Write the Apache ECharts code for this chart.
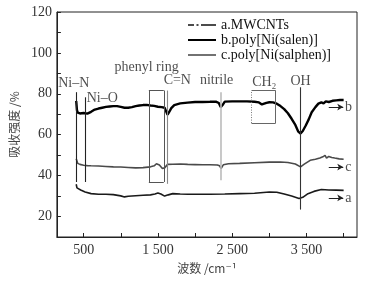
<!DOCTYPE html>
<html><head><meta charset="utf-8">
<script src="https://cdn.jsdelivr.net/npm/echarts@6/dist/echarts.min.js"></script>
<style>html,body{margin:0;padding:0;background:#fff}#c{width:372px;height:285px}</style>
</head><body><div id="c"></div>
<script>
// Series names
const seriesNames = ['a.MWCNTs', 'b.poly[Ni(salen)]', 'c.poly[Ni(salphen)]'];
// [wavenumber, intensity]
const curveA = [[400,35.8],[410,34.0],[430,33.4],[460,33.0],[520,32.0],[600,31.2],[700,30.9],[800,30.9],[900,30.7],[1000,30.1],[1050,29.6],[1100,29.9],[1200,30.2],[1300,30.4],[1400,30.6],[1460,31.0],[1500,31.5],[1540,31.0],[1590,30.0],[1640,30.6],[1700,31.2],[1800,31.0],[1900,30.9],[2000,30.9],[2200,30.9],[2400,31.0],[2600,31.2],[2800,31.4],[3000,32.0],[3100,31.9],[3200,31.0],[3300,30.0],[3400,28.8],[3450,29.4],[3520,31.2],[3600,32.3],[3700,33.2],[3800,33.0],[3900,32.9],[4000,32.8]];
const curveB = [[400,76.5],[410,72.0],[420,70.8],[450,70.4],[500,70.6],[550,70.3],[600,71.2],[650,72.3],[700,72.8],[750,73.2],[800,73.6],[850,73.8],[900,74.0],[950,74.0],[1000,73.6],[1050,73.2],[1100,73.2],[1150,73.5],[1200,74.0],[1250,74.3],[1300,74.5],[1350,74.6],[1400,74.3],[1450,74.1],[1500,73.7],[1550,73.5],[1590,73.2],[1610,71.5],[1630,69.8],[1650,71.0],[1680,73.0],[1720,74.5],[1800,75.3],[1900,75.7],[2000,76.0],[2100,76.0],[2200,76.1],[2280,76.2],[2320,75.5],[2345,73.5],[2370,74.5],[2400,76.2],[2500,76.3],[2600,76.3],[2700,76.3],[2800,76.1],[2860,75.8],[2900,74.8],[2930,75.2],[2960,75.6],[3000,75.9],[3050,75.8],[3100,75.2],[3150,74.0],[3200,72.5],[3250,70.5],[3300,67.8],[3350,64.8],[3390,61.5],[3420,60.6],[3450,61.8],[3490,64.5],[3530,67.5],[3570,71.0],[3620,73.5],[3660,75.2],[3700,75.8],[3730,75.3],[3760,76.3],[3800,76.0],[3850,76.6],[3900,76.8],[3950,77.0],[4000,77.0]];
const curveC = [[400,48.2],[420,46.0],[450,45.5],[500,45.1],[550,44.9],[600,44.8],[700,44.7],[800,44.5],[900,44.3],[1000,44.2],[1100,44.0],[1200,43.8],[1300,43.9],[1400,44.3],[1450,44.8],[1480,45.8],[1520,45.2],[1560,43.5],[1590,43.8],[1630,45.5],[1700,45.6],[1800,45.7],[1900,45.5],[2000,45.4],[2100,45.3],[2200,45.3],[2300,45.2],[2330,44.8],[2350,43.5],[2380,45.3],[2450,45.8],[2600,46.0],[2800,46.3],[3000,46.6],[3150,46.7],[3250,46.4],[3350,45.7],[3420,44.3],[3470,45.6],[3550,47.5],[3620,48.0],[3680,48.6],[3720,49.2],[3750,49.9],[3770,48.6],[3800,49.4],[3840,48.9],[3880,48.6],[3940,48.2],[4000,48.0]];
// Axis ticks
const xTickValues = [500,1000,1500,2000,2500,3000,3500,4000];
const xLabelValues = [500,1500,2500,3500];
const yTickValues = [10,20,30,40,50,60,70,80,90,100,110,120];
const yLabelValues = [20,40,60,80,100,120];
// Annotation vertical lines: [x, yTop, yBottom, color]
const annoLines = [[397,80.8,36.9,'#222'],[522,78.3,36.9,'#222'],[1623,81.6,36.0,'#888'],[2341,80.8,37.8,'#bbb'],[3420,83.2,23.4,'#333']];
// Boxes: [x1, x2, yTop, yBottom]
const phenylBox = [1378,1579,81.6,36.9];
const ch2Box = [2760,3085,81.6,65.7];
// Text annotations: [x, y, text]
const annoTexts = [[366,85.0,'Ni–N'],[751,77.7,'Ni–O'],[1347,93.0,'phenyl ring'],[1761,86.5,'C=N'],[2290,86.5,'nitrile'],[2932,85.5,'CH₂'],[3420,86.0,'OH']];
// Curve end markers: [y, letter]
const arrowMarks = [[73.5,'b'],[44.2,'c'],[29.1,'a']];
const arrowX = [3800, 3995, 4065];

const serif = 'Liberation Serif, DejaVu Serif, serif';
function seg(x1,y1,x2,y2,style){return [{coord:[x1,y1],lineStyle:style},{coord:[x2,y2]}];}
const mlData = annoLines.map(l => seg(l[0],l[1],l[0],l[2],{color:l[3],width:l[0]===2341?1.6:1.1,type:'solid'}));
const pb = phenylBox, cb = ch2Box;
const boxStyle = {color:'#555',width:1,type:'solid'};
mlData.push(seg(pb[0],pb[2],pb[1],pb[2],boxStyle),seg(pb[1],pb[2],pb[1],pb[3],boxStyle),seg(pb[1],pb[3],pb[0],pb[3],boxStyle),seg(pb[0],pb[3],pb[0],pb[2],boxStyle));
const ch2Style = {color:'#666',width:1,type:'solid'};
mlData.push(seg(cb[0],cb[2],cb[1],cb[2],ch2Style),seg(cb[1],cb[2],cb[1],cb[3],ch2Style),seg(cb[1],cb[3],cb[0],cb[3],ch2Style),seg(cb[0],cb[3],cb[0],cb[2],{color:'#777',width:1,type:[1,1.5]}));

const arrowData = arrowMarks.map(m => [{coord:[arrowX[0],m[0]]},{coord:[arrowX[1],m[0]]}]);
const letterData = arrowMarks.map(m => [arrowX[2], m[0], m[1]]);

const fmtX = v => v >= 1000 ? String(v).replace(/(\d)(\d{3})$/,'$1 $2') : String(v);
// legend icons: thin horizontal strokes inside a 28x10 box (corner dots fix the bounding box)
const box = 'M0,0L0.01,0L0,0.01Z M28,10L27.99,10L28,9.99Z ';
const iconA = 'path://' + box + 'M0,4.3L6,4.3L6,5.7L0,5.7Z M8.5,4.3L10.5,4.3L10.5,5.7L8.5,5.7Z M13,4.3L28,4.3L28,5.7L13,5.7Z';
const iconB = 'path://' + box + 'M0,3.9L28,3.9L28,6.1L0,6.1Z';
const iconC = 'path://' + box + 'M0,4.3L28,4.3L28,5.7L0,5.7Z';

const chart = echarts.init(document.getElementById('c'), null, {renderer:'canvas'});
chart.setOption({
  animation:false,
  grid:{left:54.5,right:15,top:12,bottom:48,show:true,borderColor:'#222',borderWidth:1,backgroundColor:'transparent'},
  legend:{
    orient:'vertical',left:183,top:13,itemWidth:28,itemHeight:10,itemGap:1,
    textStyle:{fontFamily:serif,fontSize:14,color:'#111',lineHeight:14},
    data:[
      {name:seriesNames[0],icon:iconA,itemStyle:{color:'#111'}},
      {name:seriesNames[1],icon:iconB,itemStyle:{color:'#000'}},
      {name:seriesNames[2],icon:iconC,itemStyle:{color:'#444'}}
    ]
  },
  xAxis:{
    type:'value',min:140,max:4180,
    name:'波数 /cm⁻¹',nameLocation:'middle',nameGap:25,
    nameTextStyle:{fontFamily:'Noto Sans CJK SC, '+serif,fontSize:12,color:'#444'},
    axisLine:{show:true,lineStyle:{color:'#222',width:1}},
    axisTick:{show:true,inside:true,length:4,customValues:xTickValues,lineStyle:{color:'#222'}},
    axisLabel:{customValues:xLabelValues,formatter:fmtX,fontFamily:serif,fontSize:14,color:'#333',margin:6},
    splitLine:{show:false}
  },
  yAxis:{
    type:'value',min:10,max:120,
    name:'吸收强度 /%',nameLocation:'middle',nameGap:36,nameRotate:90,
    nameTextStyle:{fontFamily:'Noto Sans CJK SC, '+serif,fontSize:12,color:'#444'},
    axisLine:{show:true,lineStyle:{color:'#222',width:1}},
    axisTick:{show:true,inside:true,length:4,customValues:yTickValues,lineStyle:{color:'#222'}},
    axisLabel:{customValues:yLabelValues,fontFamily:serif,fontSize:14,color:'#333',margin:5},
    splitLine:{show:false}
  },
  series:[
    {name:seriesNames[0],type:'line',data:curveA,symbol:'none',lineStyle:{color:'#1a1a1a',width:1.6},itemStyle:{color:'#1a1a1a'},z:3},
    {name:seriesNames[1],type:'line',data:curveB,symbol:'none',lineStyle:{color:'#000',width:2.4},itemStyle:{color:'#000'},z:3},
    {name:seriesNames[2],type:'line',data:curveC,symbol:'none',lineStyle:{color:'#4a4a4a',width:1.6},itemStyle:{color:'#4a4a4a'},z:3},
    {type:'line',data:[],silent:true,z:2,markLine:{silent:true,symbol:['none','none'],label:{show:false},animation:false,data:mlData}},
    {type:'line',data:[],silent:true,z:4,markLine:{silent:true,symbol:['none','arrow'],symbolSize:[5,6],label:{show:false},animation:false,
      lineStyle:{color:'#222',width:1,type:'solid'},data:arrowData}},
    {type:'scatter',silent:true,symbolSize:0,data:annoTexts,z:4,
      label:{show:true,position:'inside',formatter:p=>p.data[2],fontFamily:serif,fontSize:14,color:'#222'}},
    {type:'scatter',silent:true,symbolSize:0,data:letterData,z:4,
      label:{show:true,position:'inside',formatter:p=>p.data[2],fontFamily:serif,fontSize:14,color:'#222'}}
  ]
});
</script></body></html>
